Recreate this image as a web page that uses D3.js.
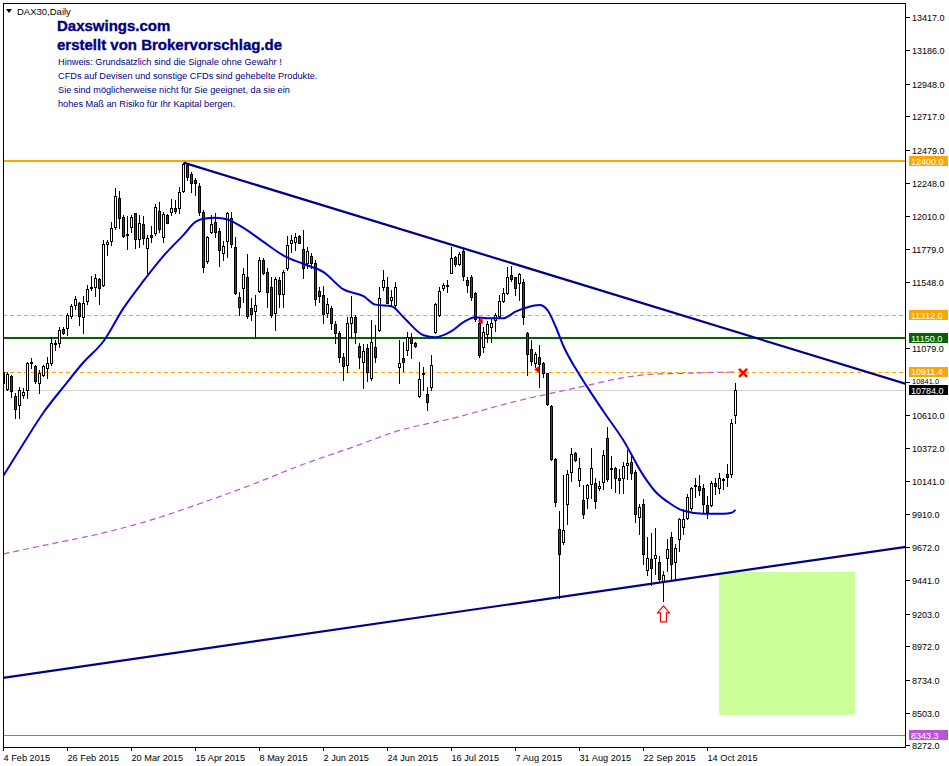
<!DOCTYPE html>
<html><head><meta charset="utf-8">
<script src="https://cdn.jsdelivr.net/npm/d3@7"></script>
<style>
body{margin:0;background:#fff;}
svg{display:block;font-family:"Liberation Sans",Arial,sans-serif;}
</style>
</head><body>
<svg id="c" width="949" height="766"></svg>
<script>
// ---------- DATA ----------
const dateTickLabels = ["4 Feb 2015","26 Feb 2015","20 Mar 2015","15 Apr 2015","8 May 2015","2 Jun 2015","24 Jun 2015","16 Jul 2015","7 Aug 2015","31 Aug 2015","22 Sep 2015","14 Oct 2015"];
const dateTickBars = [0,16,32,48,64,80,96,112,128,144,160,176];
const priceTicks = [13417,13186,12948,12717,12479,12248,12010,11779,11548,11079,10841,10610,10372,10141,9910,9672,9441,9203,8972,8734,8503,8272];

const open = [10909,10788,10880,10738,10675,10746,10781,10973,10951,10831,
10888,10937,10973,11114,11114,11213,11220,11306,11384,11398,
11298,11412,11504,11511,11568,11525,11816,11837,11936,12142,
12007,11887,11936,12035,11851,11958,11787,11880,11894,12049,
11865,12021,12042,12071,12071,12191,12376,12312,12269,12227,
12042,11695,11901,11972,11908,11752,11837,12000,11795,11440,
11504,11582,11362,11341,11483,11702,11617,11511,11327,11561,
11462,11646,11823,11830,11872,11780,11681,11731,11681,11483,
11455,11327,11362,11249,11185,11015,10958,11256,11298,11093,
10980,11079,10866,11086,11206,11511,11511,11419,11384,10944,
11008,11065,11156,11114,10738,10895,10753,10802,11192,11313,
11504,11525,11610,11724,11674,11766,11561,11582,11469,11256,
11086,11178,11227,11277,11306,11412,11469,11596,11582,11540,
11547,11185,11072,10973,11015,10973,10902,10668,10299,9803,
9711,9979,10207,10341,10150,10008,10022,10121,10128,10093,
10136,10448,10235,10235,10164,10164,10256,10278,10207,9888,
9980,9513,9590,9597,9569,9427,9597,9746,9569,9732,
9817,9881,9951,10107,10107,10093,9973,9973,10128,10093,
10150,10192,10192,10604];
const high = [10937,10909,10888,10760,10802,10795,10980,11008,10958,10923,
10958,11015,11156,11135,11227,11227,11327,11390,11447,11405,
11447,11525,11589,11603,11575,11844,11844,11972,12212,12191,
12021,12014,12021,12035,12021,12014,11880,11943,12099,12113,
12042,12028,12135,12128,12219,12390,12390,12326,12283,12248,
12057,11872,12021,12035,11929,11837,12042,12042,11865,11476,
11646,11745,11433,11455,11724,11716,11646,11582,11582,11582,
11632,11872,11880,11894,11880,11915,11795,11752,11702,11511,
11518,11433,11376,11270,11199,11043,11298,11447,11313,11114,
11107,11107,11277,11242,11511,11632,11582,11490,11547,11135,
11121,11192,11185,11121,10980,10944,10802,11029,11398,11511,
11540,11561,11795,11731,11759,11780,11582,11596,11476,11291,
11227,11270,11284,11327,11455,11504,11653,11660,11582,11610,
11568,11192,11135,11050,11100,10980,10902,10675,10306,9930,
10185,10221,10377,10349,10306,10114,10121,10377,10164,10143,
10363,10519,10320,10242,10228,10278,10363,10327,10221,9980,
10015,9747,9775,9811,9612,9505,9732,9782,9697,9881,
9945,10051,10100,10164,10185,10121,10037,10143,10164,10200,
10164,10263,10582,10830];
const low = [10795,10781,10731,10589,10589,10724,10724,10937,10831,10760,
10880,10866,10958,11065,11086,11178,11171,11291,11355,11242,
11185,11391,11490,11447,11391,11518,11738,11809,11922,11929,
11865,11780,11901,11787,11795,11816,11611,11830,11880,11901,
11830,11965,12021,12035,12035,12184,12269,12184,12163,12021,
11618,11681,11894,11865,11660,11702,11724,11795,11462,11313,
11405,11291,11277,11149,11476,11603,11369,11298,11206,11369,
11369,11632,11759,11773,11823,11575,11646,11646,11384,11405,
11256,11298,11213,11114,10980,10852,10909,11156,11114,10937,
10795,10845,10852,10980,11199,11490,11398,11384,11369,10831,
10916,11029,11008,11086,10731,10781,10639,10781,11185,11306,
11490,11476,11610,11660,11667,11561,11476,11419,11270,11015,
11050,11121,11121,11199,11298,11405,11462,11554,11455,11419,
11249,10888,10958,10944,10802,10873,10675,10292,9966,9314,
9697,9838,10143,10285,10107,9881,9951,10022,9951,10079,
10086,10143,10093,10065,10058,10058,10157,10157,9852,9767,
9555,9477,9403,9484,9427,9293,9505,9441,9449,9647,
9767,9874,9937,10029,10044,9923,9881,9966,10051,10058,
10086,10107,10171,10554];
const close = [10831,10895,10774,10646,10781,10767,10973,10980,10845,10902,
10951,10973,11114,11107,11206,11185,11313,11376,11426,11306,
11398,11497,11511,11575,11504,11816,11830,11929,12155,12000,
11872,11880,12007,11851,11965,11858,11858,11865,12078,11922,
12028,11965,12071,12049,12184,12383,12290,12248,12248,12042,
11653,11865,11958,11901,11773,11802,12035,11816,11469,11369,
11603,11306,11320,11384,11702,11610,11476,11313,11568,11462,
11617,11809,11844,11865,11823,11646,11766,11681,11426,11447,
11320,11391,11256,11185,11015,10951,11256,11298,11192,11015,
11057,10909,11121,11015,11433,11561,11398,11440,11511,10973,
10980,11156,11114,11093,10859,10902,10696,10958,11391,11483,
11525,11522,11716,11674,11745,11589,11525,11440,11284,11029,
11192,11249,11256,11313,11412,11469,11582,11568,11504,11603,
11298,11036,10987,11036,10965,10902,10682,10299,9994,9626,
9796,10192,10334,10292,10235,9909,10114,10235,10001,10107,
10327,10157,10228,10164,10150,10249,10270,10200,9909,9958,
9626,9597,9527,9619,9449,9477,9661,9555,9668,9874,
9874,10030,10093,10110,10079,9980,9923,10128,10107,10164,
10155,10171,10554,10784];

// moving average (blue), read at selected bars
const maBars = [0,5,10,15,20,25,30,35,40,45,48,50,53,56,60,65,70,75,80,85,90,93,97,100,105,108,110,112,115,118,121,125,128,131,134,136,138,140,143,146,150,155,160,163,166,170,175,180,182,183];
const maValues = [10179,10406,10625,10806,10980,11128,11362,11554,11731,11880,11972,11993,12000,11989,11929,11830,11734,11674,11617,11494,11447,11387,11376,11298,11171,11157,11171,11199,11263,11298,11291,11291,11337,11369,11384,11348,11234,11093,10937,10802,10632,10427,10179,10065,9994,9930,9909,9909,9916,9937];
// long moving average (purple dashed)
const ma200Bars = [0,12,24,37,49,62,74,87,99,112,129,138,146,154,162,171,179,183];
const ma200Values = [9626,9697,9768,9866,9980,10114,10249,10377,10498,10582,10710,10767,10816,10866,10895,10902,10909,10911];

// horizontal levels
const levelValues = [12400, 11312, 11150, 10911.4, 10784, 8343.3];
// trend lines: [bar, price]
const downTrend = [[45, 12390], [225.625, 10827]];
const upTrend = [[-0.125, 8750], [225.625, 9676]];
// target zone: bars and prices
const zoneBars = [178.9, 212.9];
const zonePrices = [9499, 8489];
// markers
const arrowBar = 165, arrowPrice = 9259;
const crossBar = 184.9, crossPrice = 10905;
const tradeBars = [119.3, 133.4], tradePrices = [11272, 10929];

const titleLines = ["Daxswings.com", "erstellt von Brokervorschlag.de"];
const noteLines = ["Hinweis: Grundsätzlich sind die Signale ohne Gewähr !",
  "CFDs auf Devisen und sonstige CFDs sind gehebelte Produkte.",
  "Sie sind möglicherweise nicht für Sie geeignet, da sie ein",
  "hohes Maß an Risiko für Ihr Kapital bergen."];

// ---------- DRAW ----------
const svg = d3.select("#c");
const L = 3, R = 906, T = 3, B = 747;
const x = d3.scaleLinear().domain([0, 225.625]).range([3.5, 906]);
const y = d3.scaleLinear().domain([8261.4, 13518]).range([747, 3]);

svg.append("rect").attr("width", 949).attr("height", 766).attr("fill", "#fff");
svg.append("defs").append("clipPath").attr("id", "clip")
  .append("rect").attr("x", L).attr("y", T).attr("width", R - L).attr("height", B - T);

const plot = svg.append("g").attr("clip-path", "url(#clip)");

// zone
plot.append("rect")
  .attr("x", x(zoneBars[0])).attr("y", y(zonePrices[0]))
  .attr("width", x(zoneBars[1]) - x(zoneBars[0]))
  .attr("height", y(zonePrices[1]) - y(zonePrices[0]))
  .attr("fill", "#ccff99");

// horizontal levels
const levelStyle = [
  {c: "#ffa500", w: 2, d: null, bg: "#ffa500"},
  {c: "#ffa500", w: 1, d: "4,3", bg: "#ffa500"},
  {c: "#006400", w: 2, d: null, bg: "#006400"},
  {c: "#ffa500", w: 1, d: "4,3", bg: "#ffa500"},
  {c: "#d3d3d3", w: 1, d: null, bg: "#000000"},
  {c: "#ba55d3", w: 1, d: null, bg: "#ba55d3"}
];
levelValues.forEach((v, k) => {
  const yy = Math.round(y(v)) + (levelStyle[k].w === 1 ? 0.5 : 0);
  plot.append("line").attr("x1", L).attr("x2", R).attr("y1", yy).attr("y2", yy)
    .attr("stroke", levelStyle[k].c).attr("stroke-width", levelStyle[k].w)
    .attr("stroke-dasharray", levelStyle[k].d).attr("shape-rendering", "crispEdges");
});

// long MA
plot.append("path")
  .datum(ma200Bars.map((b, i) => [b, ma200Values[i]]))
  .attr("d", d3.line().x(d => x(d[0])).y(d => y(d[1])).curve(d3.curveMonotoneX))
  .attr("fill", "none").attr("stroke", "#ba55d3").attr("stroke-width", 1.2)
  .attr("stroke-dasharray", "6,4");

// candles
const cg = plot.append("g").attr("shape-rendering", "crispEdges");
open.forEach((o, i) => {
  const c = close[i];
  const cx = Math.floor(x(i)) + 0.5;
  const yh = Math.round(y(high[i])), yl = Math.round(y(low[i]));
  cg.append("line").attr("x1", cx).attr("x2", cx).attr("y1", yh).attr("y2", yl + 1)
    .attr("stroke", "#000").attr("stroke-width", 1);
  const yt = Math.round(y(Math.max(o, c))), yb = Math.round(y(Math.min(o, c)));
  const bh = yb - yt;
  if (bh < 2) {
    cg.append("rect").attr("x", cx - 1.5).attr("y", yt).attr("width", 3).attr("height", Math.max(1, bh + 1)).attr("fill", "#000");
  } else {
    cg.append("rect").attr("x", cx - 1.5).attr("y", yt).attr("width", 3).attr("height", bh + 1).attr("fill", "#000");
    cg.append("rect").attr("x", cx - 0.5).attr("y", yt + 1).attr("width", 1).attr("height", bh - 1)
      .attr("fill", c >= o ? "#ffffff" : "#dd0000");
  }
});

// trend lines
[downTrend, upTrend].forEach(t => {
  plot.append("line")
    .attr("x1", x(t[0][0])).attr("y1", y(t[0][1]))
    .attr("x2", x(t[1][0])).attr("y2", y(t[1][1]))
    .attr("stroke", "#00008b").attr("stroke-width", 2.2);
});

// MA
plot.append("path")
  .datum(maBars.map((b, i) => [b, maValues[i]]))
  .attr("d", d3.line().x(d => x(d[0])).y(d => y(d[1])).curve(d3.curveMonotoneX))
  .attr("fill", "none").attr("stroke", "#0000cc").attr("stroke-width", 2);

// markers
plot.append("path")
  .attr("transform", `translate(${x(arrowBar)},${y(arrowPrice)})`)
  .attr("d", "M0,0 L6,7 L3,7 L3,16 L-3,16 L-3,7 L-6,7 Z")
  .attr("fill", "#fff").attr("stroke", "#ff0000").attr("stroke-width", 1.2);
plot.append("path")
  .attr("transform", `translate(${x(crossBar)},${y(crossPrice)})`)
  .attr("d", "M-4,-4 L4,4 M-4,4 L4,-4")
  .attr("stroke", "#ff0000").attr("stroke-width", 2.4).attr("fill", "none");
tradeBars.forEach((b, i) => {
  plot.append("path")
    .attr("transform", `translate(${x(b)},${y(tradePrices[i])})`)
    .attr("d", "M-3,0 L2,-3.5 L2,3.5 Z").attr("fill", "#ff0000");
});

// frame
svg.append("rect").attr("x", L + 0.5).attr("y", T + 0.5).attr("width", R - L - 1).attr("height", B - T)
  .attr("fill", "none").attr("stroke", "#000").attr("stroke-width", 1).attr("shape-rendering", "crispEdges");

// right price axis
const ax = svg.append("g").attr("shape-rendering", "crispEdges");
priceTicks.forEach(v => {
  const yy = Math.round(y(v)) + 0.5;
  ax.append("line").attr("x1", R).attr("x2", R + 4).attr("y1", yy).attr("y2", yy).attr("stroke", "#000");
  // the 10841 label is squeezed between two value boxes
  const squeezed = v === 10841;
  svg.append("text").attr("x", 912).attr("y", squeezed ? 384 : yy + 3.5)
    .attr("font-size", squeezed ? 7.5 : 9).attr("fill", "#000").text(v.toFixed(1));
});
levelValues.forEach((v, k) => {
  const yy = Math.round(y(v));
  svg.append("rect").attr("x", 909).attr("y", yy - 5).attr("width", 39).attr("height", 10)
    .attr("fill", levelStyle[k].bg).attr("shape-rendering", "crispEdges");
  const dy = v === 10911.4 ? 3 : (v === 10784 ? 4 : 3.5);
  svg.append("text").attr("x", 911).attr("y", yy + dy).attr("font-size", 9).attr("fill", "#fff").text(v.toFixed(1));
});

// bottom date axis
dateTickBars.forEach((b, k) => {
  const xx = Math.floor(x(b)) + 0.5;
  ax.append("line").attr("x1", xx).attr("x2", xx).attr("y1", B).attr("y2", B + 4).attr("stroke", "#000");
  svg.append("text").attr("x", xx).attr("y", 760.5).attr("font-size", 9.2).attr("fill", "#000").text(dateTickLabels[k]);
});

// header
svg.append("path").attr("d", "M6,9 L12,9 L9,13 Z").attr("fill", "#000");
svg.append("text").attr("x", 17).attr("y", 14.5).attr("font-size", 9.5).attr("fill", "#000").text("DAX30,Daily");
titleLines.forEach((t, i) => {
  svg.append("text").attr("x", 57).attr("y", 31 + i * 19).attr("font-size", 15).attr("font-weight", "bold")
    .attr("fill", "#000080").attr("stroke", "#000080").attr("stroke-width", 0.35).text(t);
});
noteLines.forEach((t, i) => {
  svg.append("text").attr("x", 58).attr("y", 65 + i * 14).attr("font-size", 9.2)
    .attr("fill", "#000080").text(t);
});
</script>
</body></html>
